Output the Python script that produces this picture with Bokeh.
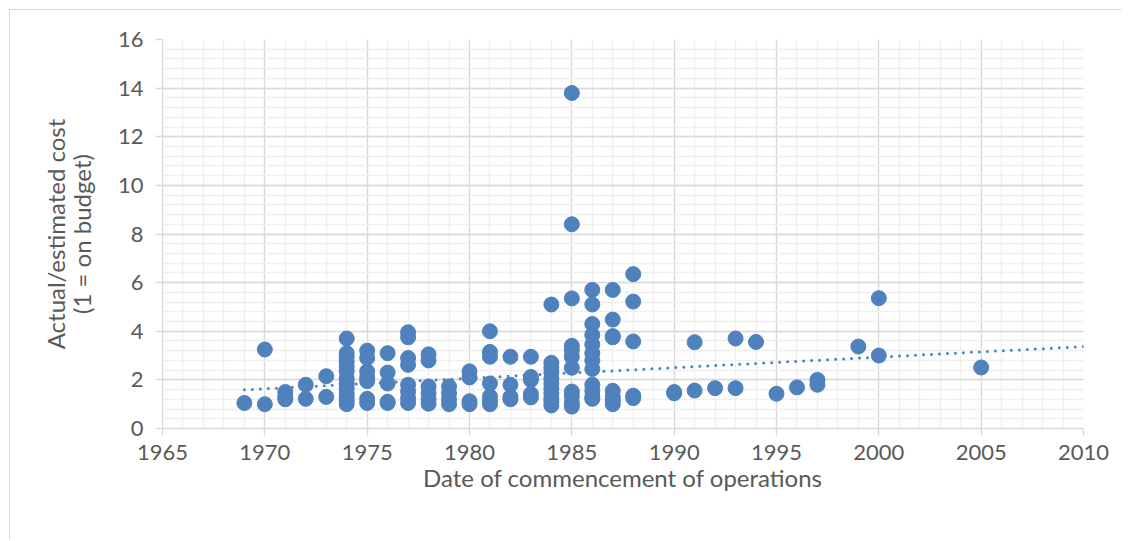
from bokeh.plotting import figure
from bokeh.models import SingleIntervalTicker, Range1d
from bokeh.embed import file_html
from bokeh.resources import INLINE

# ---- data ----
year = (
    [1969]
    + [1970] * 2
    + [1971] * 3
    + [1972] * 2
    + [1973] * 2
    + [1974] * 13
    + [1975] * 7
    + [1976] * 5
    + [1977] * 8
    + [1978] * 6
    + [1979] * 4
    + [1980] * 4
    + [1981] * 7
    + [1982] * 4
    + [1983] * 5
    + [1984] * 11
    + [1985] * 11
    + [1986] * 12
    + [1987] * 8
    + [1988] * 5
    + [1990] * 2
    + [1991] * 2
    + [1992]
    + [1993] * 2
    + [1994]
    + [1995]
    + [1996]
    + [1997] * 2
    + [1999]
    + [2000] * 2
    + [2005]
)
cost_ratio = [
    1.05,
    3.25, 1.0,
    1.5, 1.3, 1.2,
    1.8, 1.22,
    2.15, 1.3,
    3.7, 3.1, 2.95, 2.75, 2.55, 2.35, 2.05, 1.85, 1.65, 1.45, 1.3, 1.15, 1.0,
    3.2, 2.9, 2.35, 2.1, 1.95, 1.22, 1.05,
    3.1, 2.3, 1.85, 1.1, 1.05,
    3.96, 3.75, 2.9, 2.62, 1.8, 1.52, 1.25, 1.05,
    3.05, 2.8, 1.73, 1.45, 1.2, 1.02,
    1.73, 1.45, 1.2, 1.0,
    2.35, 2.1, 1.12, 1.0,
    4.0, 3.15, 2.95, 1.85, 1.32, 1.12, 1.0,
    2.95, 1.8, 1.3, 1.2,
    2.95, 2.12, 2.0, 1.42, 1.28,
    5.1, 2.7, 2.5, 2.3, 2.05, 1.85, 1.65, 1.45, 1.25, 1.1, 0.95,
    13.8, 8.4, 5.35, 3.4, 3.22, 2.95, 2.5, 1.52, 1.32, 1.05, 0.9,
    5.7, 5.1, 4.3, 3.85, 3.45, 3.1, 2.8, 2.45, 1.8, 1.55, 1.3, 1.22,
    5.7, 4.48, 3.8, 3.75, 1.55, 1.3, 1.15, 1.0,
    6.35, 5.22, 3.58, 1.35, 1.25,
    1.45, 1.5,
    3.55, 1.56,
    1.66,
    3.7, 1.66,
    3.56,
    1.43,
    1.69,
    2.0, 1.8,
    3.37,
    5.36, 3.0,
    2.51,
]
trend_year = [1969, 2010]
trend_ratio = [1.59, 3.37]

x_title = "Date of commencement of operations"
y_title = "Actual/estimated cost\n(1 = on budget)"

FONT = "Lato"
BLUE = "#4f81bd"
TXT = "#595959"
MAJ = "#d9d9d9"
MIN = "#efefef"

p = figure(
    width=1112, height=531,
    x_range=Range1d(1965, 2010), y_range=Range1d(0, 16),
    output_backend="svg", toolbar_location=None,
    min_border_left=152, min_border_right=39,
    min_border_top=29, min_border_bottom=113,
)
p.styles = {
    "margin-left": "9px", "margin-top": "9px",
    "border-left": "1px solid #d9d9d9", "border-top": "1px solid #d9d9d9",
}
p.outline_line_color = None

p.xaxis.ticker = SingleIntervalTicker(interval=5, num_minor_ticks=5)
p.yaxis.ticker = SingleIntervalTicker(interval=2, num_minor_ticks=5)

for g in (p.xgrid[0], p.ygrid[0]):
    g.grid_line_color = MAJ
    g.grid_line_width = 1.3
    g.minor_grid_line_color = MIN
    g.minor_grid_line_width = 1.3

for ax in (p.xaxis[0], p.yaxis[0]):
    ax.axis_line_color = MAJ
    ax.axis_line_width = 1.3
    ax.major_tick_line_color = MAJ
    ax.major_tick_line_width = 1.3
    ax.major_tick_out = 7
    ax.major_tick_in = 0
    ax.minor_tick_line_color = None
    ax.major_label_text_font = FONT
    ax.major_label_text_font_size = "22px"
    ax.major_label_text_color = TXT
    ax.axis_label_text_font = FONT
    ax.axis_label_text_font_size = "24px"
    ax.axis_label_text_color = TXT
    ax.axis_label_text_font_style = "normal"
    ax.axis_label_text_line_height = 0.9

p.xaxis.major_label_standoff = 9
p.yaxis.major_label_standoff = 12
p.xaxis.axis_label = x_title
p.xaxis.axis_label_standoff = 0
p.yaxis.axis_label = y_title
p.yaxis.axis_label_standoff = 19

p.scatter(year, cost_ratio, size=15, marker="circle",
          fill_color=BLUE, line_color=BLUE)
p.line(trend_year, trend_ratio, line_color=BLUE, line_width=3,
       line_dash="0 8", line_cap="round")

open("out.html", "w").write(file_html(p, INLINE))
